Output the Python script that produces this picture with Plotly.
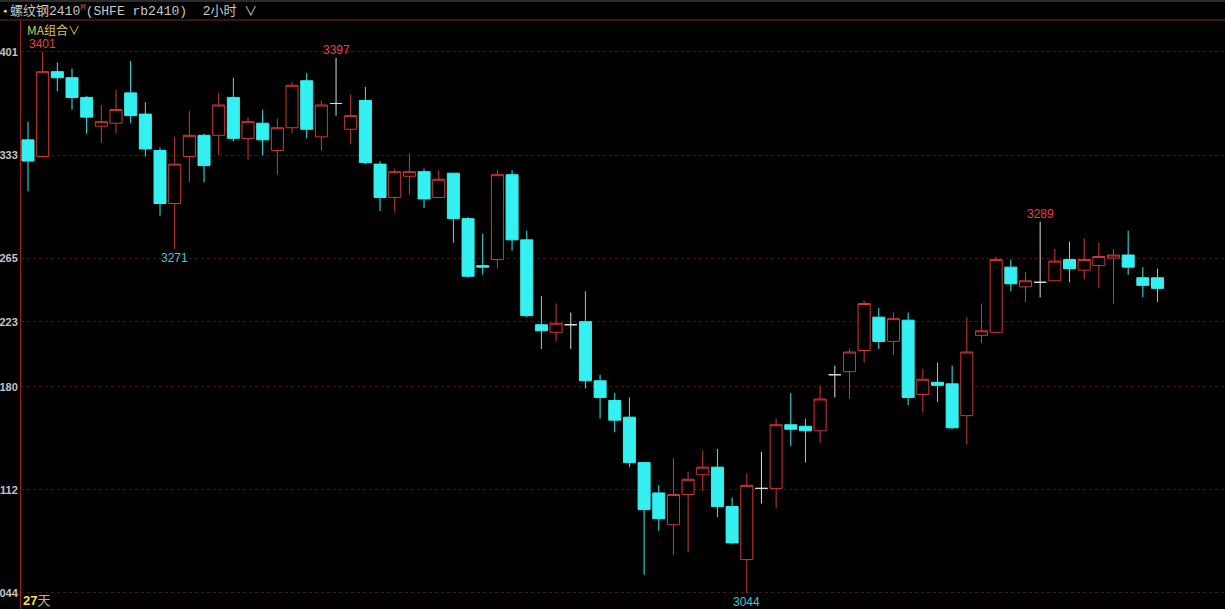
import plotly.graph_objects as go

opens = [3343, 3332, 3388, 3384, 3371, 3352, 3354, 3374, 3360, 3336,
         3301, 3332, 3346, 3346, 3371, 3344, 3354, 3336, 3351, 3382,
         3345, 3367, 3350, 3369, 3327, 3305, 3319, 3322, 3305, 3321,
         3291, 3260, 3264, 3320, 3277, 3221, 3216, 3221, 3223, 3184,
         3171, 3160, 3130, 3110, 3089, 3109, 3122, 3127, 3101, 3066,
         3113, 3113, 3155, 3154, 3151, 3188, 3190, 3204, 3226, 3210,
         3224, 3175, 3183, 3182, 3161, 3214, 3216, 3259, 3246, 3249,
         3250, 3264, 3257, 3260, 3265, 3267, 3252, 3252]
highs = [3355, 3401, 3394, 3390, 3372, 3366, 3376, 3395, 3368, 3338,
         3345, 3362, 3347, 3374, 3384, 3358, 3363, 3357, 3381, 3387,
         3369, 3397, 3373, 3378, 3329, 3324, 3334, 3324, 3323, 3321,
         3292, 3281, 3323, 3323, 3283, 3240, 3235, 3229, 3243, 3188,
         3176, 3173, 3130, 3115, 3133, 3124, 3138, 3139, 3107, 3123,
         3137, 3159, 3176, 3159, 3181, 3194, 3205, 3237, 3232, 3229,
         3229, 3192, 3196, 3194, 3226, 3235, 3266, 3264, 3256, 3289,
         3271, 3276, 3278, 3275, 3271, 3283, 3259, 3258]
lows = [3309, 3331, 3375, 3363, 3347, 3341, 3347, 3354, 3332, 3293,
        3271, 3315, 3315, 3333, 3342, 3330, 3333, 3320, 3347, 3344,
        3336, 3359, 3340, 3327, 3296, 3295, 3307, 3298, 3305, 3275,
        3252, 3254, 3258, 3270, 3226, 3205, 3210, 3205, 3179, 3159,
        3150, 3127, 3056, 3085, 3069, 3071, 3111, 3094, 3076, 3044,
        3103, 3100, 3141, 3130, 3143, 3173, 3172, 3196, 3205, 3201,
        3168, 3163, 3170, 3152, 3142, 3209, 3216, 3243, 3236, 3239,
        3250, 3249, 3251, 3245, 3235, 3254, 3239, 3236]
closes = [3329, 3388, 3384, 3371, 3358, 3355, 3363, 3359, 3337, 3301,
          3327, 3346, 3326, 3366, 3344, 3355, 3343, 3351, 3379, 3350,
          3366, 3367, 3359, 3328, 3305, 3322, 3322, 3304, 3317, 3291,
          3253, 3259, 3320, 3277, 3227, 3217, 3222, 3221, 3184, 3173,
          3158, 3130, 3099, 3093, 3109, 3119, 3127, 3101, 3077, 3115,
          3113, 3155, 3152, 3151, 3172, 3188, 3203, 3235, 3210, 3225,
          3173, 3185, 3181, 3153, 3203, 3217, 3264, 3248, 3250, 3249,
          3263, 3258, 3264, 3266, 3267, 3259, 3247, 3245]

# price levels of the grid; the labels appear cut to their last three digits
tick_vals = [3401, 3333, 3265, 3223, 3180, 3112, 3044]
tick_text = ["401", "333", "265", "223", "180", "112", "044"]

high_marks = [1, 21, 69]
low_marks = [10, 49]

idx = list(range(len(opens)))

UP = "#d03838"
DOWN = "#35f0f0"
DOJI = "#dcdcdc"

main_x, main_o, main_h, main_l, main_c = [], [], [], [], []
doji_x, doji_o, doji_h, doji_l, doji_c = [], [], [], [], []
for i in idx:
    if opens[i] == closes[i]:
        doji_x.append(i); doji_o.append(opens[i]); doji_h.append(highs[i])
        doji_l.append(lows[i]); doji_c.append(closes[i])
    else:
        main_x.append(i); main_o.append(opens[i]); main_h.append(highs[i])
        main_l.append(lows[i]); main_c.append(closes[i])

fig = go.Figure()
fig.add_trace(go.Candlestick(
    x=main_x, open=main_o, high=main_h, low=main_l, close=main_c,
    increasing=dict(line=dict(color=UP, width=1), fillcolor="#000000"),
    decreasing=dict(line=dict(color=DOWN, width=1), fillcolor=DOWN),
    whiskerwidth=0, showlegend=False, hoverinfo="skip"))
fig.add_trace(go.Candlestick(
    x=doji_x, open=doji_o, high=doji_h, low=doji_l, close=doji_c,
    increasing=dict(line=dict(color=DOJI, width=1), fillcolor=DOJI),
    decreasing=dict(line=dict(color=DOJI, width=1), fillcolor=DOJI),
    whiskerwidth=0, showlegend=False, hoverinfo="skip"))

L, T, W, H = 21, 20, 1225, 609
PW, PH = W - L, H - T


def px(x):
    return (x - L) / PW


def py(y):
    return (H - y) / PH


annotations = []
for i in high_marks:
    annotations.append(dict(x=i, y=highs[i], xref="x", yref="y", text=str(highs[i]),
                            showarrow=False, yanchor="bottom", yshift=-1,
                            font=dict(family="Liberation Sans", size=12, color="#e8423f")))
for i in low_marks:
    annotations.append(dict(x=i, y=lows[i], xref="x", yref="y", text=str(lows[i]),
                            showarrow=False, yanchor="top", yshift=0,
                            font=dict(family="Liberation Sans", size=12, color="#3cc8d2")))

annotations.append(dict(x=px(1), y=py(11), xref="paper", yref="paper", text="●",
                        showarrow=False, xanchor="left", yanchor="middle",
                        font=dict(size=7, color="#f0d840")))
annotations.append(dict(
    x=px(8), y=py(11), xref="paper", yref="paper",
    text="螺纹钢2410<sup><span style=\"color:#d84040\">M</span></sup>(SHFE rb2410)  2小时 ∨",
    showarrow=False, xanchor="left", yanchor="middle",
    font=dict(family="Liberation Mono, Noto Sans CJK SC", size=13, color="#c8c8c8")))
annotations.append(dict(x=px(25), y=py(29), xref="paper", yref="paper", text="MA组合∨",
                        showarrow=False, xanchor="left", yanchor="middle",
                        font=dict(family="Noto Sans CJK SC", size=12, color="#d6c85a")))
annotations.append(dict(x=px(21), y=py(600), xref="paper", yref="paper",
                        text="<b>27</b><span style=\"color:#c8bc58\">天</span>",
                        showarrow=False, xanchor="left", yanchor="middle",
                        font=dict(family="Liberation Sans, Noto Sans CJK SC", size=13, color="#f0e040")))

shapes = [
    dict(type="line", xref="paper", yref="paper", x0=px(0), x1=1, y0=1, y1=1,
         line=dict(color="#3a1418", width=2)),
    dict(type="rect", xref="paper", yref="paper", x0=px(0), x1=1, y0=py(2), y1=py(0),
         fillcolor="#2c2c2c", line=dict(width=0)),
]

fig.update_layout(
    template="none",
    width=W, height=H,
    margin=dict(l=L, r=0, t=T, b=0, pad=0),
    paper_bgcolor="#000000", plot_bgcolor="#000000",
    boxgap=0.18, boxgroupgap=0,
    showlegend=False,
    annotations=annotations,
    shapes=shapes,
    xaxis=dict(range=[-0.477, 81.6], showgrid=False, zeroline=False, showticklabels=False,
               showline=False, rangeslider=dict(visible=False), fixedrange=True),
    yaxis=dict(range=[3033.4, 3422.1], tickvals=tick_vals, ticktext=tick_text,
               showgrid=True, gridcolor="#4a1212", griddash="dot", gridwidth=1,
               zeroline=False, showline=True, linecolor="#9a2222", linewidth=1,
               ticks="", ticklabelstandoff=0, automargin=False,
               tickfont=dict(family="Liberation Sans", size=11, color="#c4c4c4", weight="bold")),
)

fig.write_html("out.html", config=dict(displayModeBar=False),
               post_script="document.body.style.margin='0';document.body.style.overflow='hidden';")
